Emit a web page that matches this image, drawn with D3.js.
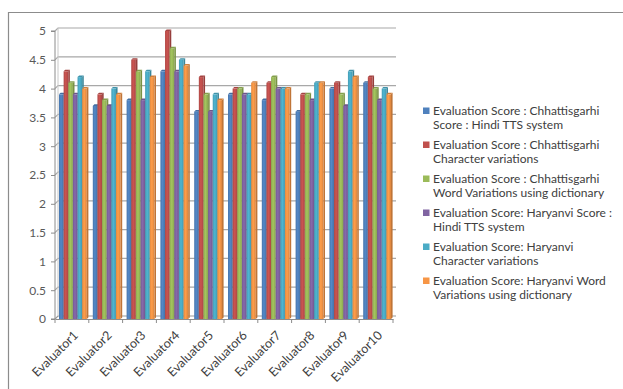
<!DOCTYPE html>
<html>
<head>
<meta charset="utf-8">
<script src="https://cdn.jsdelivr.net/npm/d3@7/dist/d3.min.js"></script>
<style>
  html, body { margin: 0; padding: 0; background: #fff; }
  svg { display: block; }
  text { font-family: Lato, "Open Sans", sans-serif; }
</style>
</head>
<body>
<svg id="chart" width="623" height="389"></svg>
<script>
// Evaluators on the x axis
const categories = ["Evaluator1", "Evaluator2", "Evaluator3", "Evaluator4", "Evaluator5",
                    "Evaluator6", "Evaluator7", "Evaluator8", "Evaluator9", "Evaluator10"];

// Series names (legend text, split into two lines each)
const seriesNames = [
  ["Evaluation Score : Chhattisgarhi", "Score : Hindi TTS system"],
  ["Evaluation Score : Chhattisgarhi", "Character variations"],
  ["Evaluation Score : Chhattisgarhi", "Word Variations using dictionary"],
  ["Evaluation Score: Haryanvi Score :", "Hindi TTS system"],
  ["Evaluation Score: Haryanvi", "Character variations"],
  ["Evaluation Score: Haryanvi Word", "Variations using dictionary"]
];

// Scores per evaluator for each series
const chhHindiTTS   = [3.9, 3.7, 3.8, 4.3, 3.6, 3.9, 3.8, 3.6, 4.0, 4.1];
const chhCharVar    = [4.3, 3.9, 4.5, 5.0, 4.2, 4.0, 4.1, 3.9, 4.1, 4.2];
const chhWordVar    = [4.1, 3.8, 4.3, 4.7, 3.9, 4.0, 4.2, 3.9, 3.9, 4.0];
const harHindiTTS   = [3.9, 3.7, 3.8, 4.3, 3.6, 3.9, 4.0, 3.8, 3.7, 3.8];
const harCharVar    = [4.2, 4.0, 4.3, 4.5, 3.9, 3.9, 4.0, 4.1, 4.3, 4.0];
const harWordVar    = [4.0, 3.9, 4.2, 4.4, 3.8, 4.1, 4.0, 4.1, 4.2, 3.9];

const yTicks = [0, 0.5, 1, 1.5, 2, 2.5, 3, 3.5, 4, 4.5, 5];

const seriesValues = [chhHindiTTS, chhCharVar, chhWordVar, harHindiTTS, harCharVar, harWordVar];
const colors = ["#4F81BD", "#C0504D", "#9BBB59", "#8064A2", "#4BACC6", "#F79646"];

const svg = d3.select("#chart");

// chart frame
svg.append("path")
  .attr("d", "M8.5,389 L8.5,12.5 L623,12.5")
  .attr("fill", "none")
  .attr("stroke", "#8c8c8c")
  .attr("stroke-width", 1.2);

const x0 = 55, x1 = 393, yBase = 319, yTop = 31;
const depth = 3;   // 3-D wall offset

const x = d3.scaleBand().domain(categories).range([x0, x1]).paddingInner(0).paddingOuter(0);
const xs = d3.scaleBand().domain(d3.range(seriesNames.length))
  .range([4, x.bandwidth() - 2]).padding(0);
const y = d3.scaleLinear().domain([0, 5]).range([yBase, yTop]);

// back-wall gridlines
const grid = svg.append("g");
yTicks.forEach(t => {
  const yy = y(t);
  grid.append("path")
    .attr("d", `M${x0},${yy} L${x0 + depth},${yy - depth} L${x1 + depth},${yy - depth}`)
    .attr("fill", "none")
    .attr("stroke", t === 0 ? "#9a9a9a" : "#a8a8a8")
    .attr("stroke-width", 1.2);
});
// back-wall left edge
grid.append("line")
  .attr("x1", x0 + depth).attr("x2", x0 + depth)
  .attr("y1", yBase - depth).attr("y2", y(5) - depth)
  .attr("stroke", "#c8c8c8");

// gradients for column shading
const defs = svg.append("defs");
colors.forEach((c, i) => {
  const g = defs.append("linearGradient").attr("id", "grad" + i)
    .attr("x1", "0%").attr("x2", "100%").attr("y1", "0%").attr("y2", "0%");
  const base = d3.color(c);
  g.append("stop").attr("offset", "0%").attr("stop-color", base.darker(0.25));
  g.append("stop").attr("offset", "45%").attr("stop-color", base.brighter(0.15));
  g.append("stop").attr("offset", "100%").attr("stop-color", base.darker(0.35));
});

// columns
const bars = svg.append("g");
categories.forEach((cat, ci) => {
  seriesValues.forEach((vals, si) => {
    const v = vals[ci];
    const bx = x(cat) + xs(si);
    const bw = xs.bandwidth();
    const by = y(v);
    const d = 1.6;
    const base = d3.color(colors[si]);
    // side face
    bars.append("path")
      .attr("d", `M${bx + bw},${by} L${bx + bw + d},${by - d} L${bx + bw + d},${yBase - d} L${bx + bw},${yBase} Z`)
      .attr("fill", base.darker(0.7));
    // top face
    bars.append("path")
      .attr("d", `M${bx},${by} L${bx + d},${by - d} L${bx + bw + d},${by - d} L${bx + bw},${by} Z`)
      .attr("fill", base.darker(0.45));
    // front face
    bars.append("rect")
      .attr("x", bx).attr("y", by)
      .attr("width", bw).attr("height", yBase - by)
      .attr("fill", `url(#grad${si})`);
  });
});

// y axis
const yAxis = svg.append("g").attr("transform", `translate(${x0},0)`)
  .call(d3.axisLeft(y).tickValues(yTicks).tickSize(4).tickPadding(5).tickFormat(d3.format("")));
yAxis.select(".domain").attr("stroke", "#8c8c8c").attr("d", `M-4,${yBase}H0V${y(5)}H-4`);
yAxis.selectAll(".tick line").attr("stroke", "#8c8c8c");
yAxis.selectAll(".tick text").attr("fill", "#595959").style("font-size", "12px")
  .style("font-family", "Lato, 'Open Sans', sans-serif");

// x axis
const xAxis = svg.append("g").attr("transform", `translate(0,${yBase})`)
  .call(d3.axisBottom(x).tickSize(0).tickFormat(""));
xAxis.select(".domain").attr("stroke", "#8c8c8c");
xAxis.selectAll(".tick").remove();
// category boundary ticks
svg.append("g").selectAll("line")
  .data(d3.range(categories.length + 1))
  .join("line")
  .attr("x1", i => x0 + i * x.bandwidth()).attr("x2", i => x0 + i * x.bandwidth())
  .attr("y1", yBase).attr("y2", yBase + 4)
  .attr("stroke", "#8c8c8c");
// rotated category labels
svg.append("g").selectAll("text")
  .data(categories)
  .join("text")
  .attr("transform", d => `translate(${x(d) + x.bandwidth() / 2 + 7},${yBase + 17}) rotate(-45)`)
  .attr("text-anchor", "end")
  .attr("fill", "#404040")
  .style("font-size", "12.5px")
  .text(d => d);

// legend
const legend = svg.append("g");
seriesNames.forEach((lines, i) => {
  const cy = 111 + i * 34;
  legend.append("rect")
    .attr("x", 423).attr("y", cy - 3.5)
    .attr("width", 6.5).attr("height", 6.5)
    .attr("fill", colors[i]);
  lines.forEach((ln, li) => {
    legend.append("text")
      .attr("x", 433).attr("y", cy + li * 13.5)
      .attr("dy", "0.35em")
      .attr("fill", "#404040")
      .style("font-size", "12px")
      .text(ln);
  });
});
</script>
</body>
</html>
